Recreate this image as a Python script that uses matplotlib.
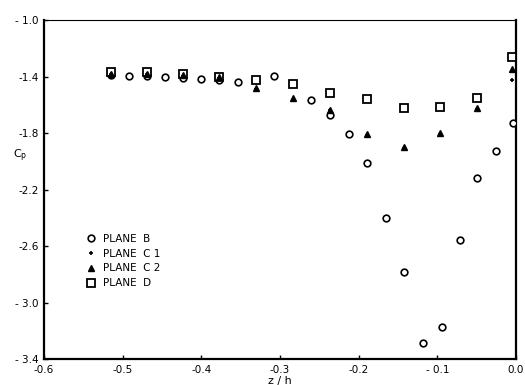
import matplotlib
matplotlib.use("Agg")
import matplotlib.pyplot as plt

# Plane B (open circles)
xB = [-0.515, -0.492, -0.469, -0.446, -0.423, -0.400, -0.378, -0.354, -0.307,
      -0.261, -0.237, -0.212, -0.189, -0.165, -0.142, -0.118, -0.094, -0.071,
      -0.049, -0.026, -0.004]
yB = [-1.392, -1.395, -1.397, -1.404, -1.411, -1.418, -1.425, -1.439, -1.394,
      -1.566, -1.673, -1.807, -2.015, -2.400, -2.786, -3.285, -3.171, -2.560,
      -2.121, -1.927, -1.731]

# Plane C1 (plus)
xC1 = [-0.515, -0.469, -0.423, -0.377, -0.330, -0.283, -0.236, -0.189, -0.142,
       -0.096, -0.050, -0.005]
yC1 = [-1.385, -1.385, -1.395, -1.410, -1.490, -1.565, -1.640, -1.815, -1.905,
       -1.805, -1.630, -1.425]

# Plane C2 (filled triangles)
xC2 = [-0.515, -0.469, -0.423, -0.377, -0.330, -0.283, -0.236, -0.189, -0.142,
       -0.096, -0.050, -0.005]
yC2 = [-1.380, -1.380, -1.390, -1.405, -1.480, -1.550, -1.637, -1.809, -1.901,
       -1.802, -1.625, -1.349]

# Plane D (open squares)
xD = [-0.515, -0.469, -0.423, -0.377, -0.330, -0.283, -0.236, -0.189, -0.142,
      -0.096, -0.050, -0.005]
yD = [-1.368, -1.368, -1.382, -1.404, -1.425, -1.453, -1.515, -1.561, -1.625,
      -1.618, -1.550, -1.264]

xticks = [-0.6, -0.5, -0.4, -0.3, -0.2, -0.1, 0.0]
xticklabels = ["-0.6", "-0.5", "-0.4", "-0.3", "-0.2", "- 0.1", "0.0"]
yticks = [-1.0, -1.4, -1.8, -2.2, -2.6, -3.0, -3.4]
yticklabels = ["- 1.0", "-1.4", "-1.8", "-2.2", "-2.6", "- 3.0", "- 3.4"]

fig = plt.figure(figsize=(5.25, 3.85), dpi=100)
ax = fig.add_axes([0.0838, 0.0675, 0.899, 0.8805])

ax.plot(xB, yB, linestyle="none", marker="o", ms=4.8, mfc="white", mec="black",
        mew=1.2, label="PLANE  B", zorder=3)
ax.plot(xD, yD, linestyle="none", marker="s", ms=5.2, mfc="white", mec="black",
        mew=1.3, label="PLANE  D", zorder=4)
ax.plot(xC2, yC2, linestyle="none", marker="^", ms=4.2, mfc="black", mec="black",
        label="PLANE  C 2", zorder=5)
ax.plot(xC1, yC1, linestyle="none", marker="+", ms=3.5, mec="black", mew=1.2,
        label="PLANE  C 1", zorder=5)

ax.set_xlim(-0.6, 0.0)
ax.set_ylim(-3.4, -1.0)
ax.set_xticks(xticks)
ax.set_xticklabels(xticklabels)
ax.set_yticks(yticks)
ax.set_yticklabels(yticklabels)
ax.tick_params(direction="in", length=3, width=1, labelsize=7.5, pad=4)

for s in ["left", "bottom", "right"]:
    ax.spines[s].set_linewidth(1.6)
ax.spines["top"].set_linewidth(0.8)

ax.set_xlabel("z / h", fontsize=8, labelpad=1)
ax.text(-0.05, 0.60, "C$_\\mathregular{p}$", transform=ax.transAxes, fontsize=8,
        ha="center", va="center")

handles, labels = ax.get_legend_handles_labels()
order = [0, 3, 2, 1]
ax.legend([handles[i] for i in order], [labels[i] for i in order],
          loc="upper left", bbox_to_anchor=(0.075, 0.39), frameon=False,
          fontsize=7.5, handlelength=0.8, handletextpad=0.8, labelspacing=0.45,
          borderpad=0.2)

fig.savefig("out.png", dpi=100)
